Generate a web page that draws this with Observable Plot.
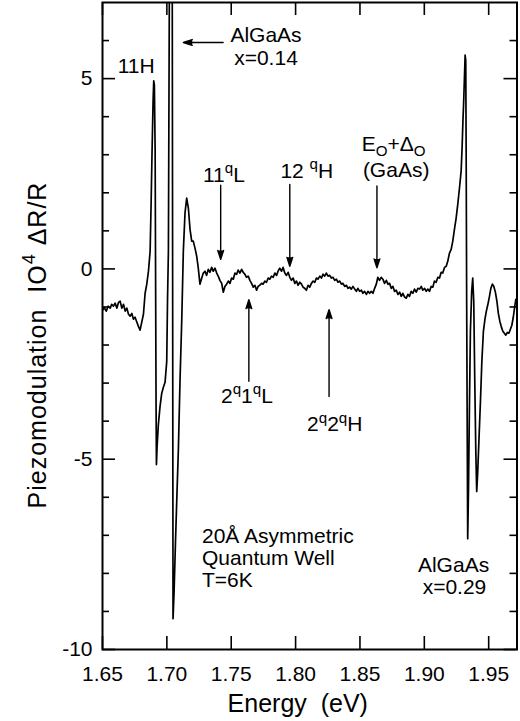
<!DOCTYPE html>
<html>
<head>
<meta charset="utf-8">
<script src="https://cdn.jsdelivr.net/npm/d3@7"></script>
<script src="https://cdn.jsdelivr.net/npm/@observablehq/plot@0.6"></script>
<style>
  html, body { margin: 0; padding: 0; background: #fff; }
  #chart { width: 520px; height: 721px; }
</style>
</head>
<body>
<div id="chart"></div>
<script>
// Piezomodulation spectrum of a 20 Å asymmetric quantum well at T = 6 K
const energy = [
  1.6500, 1.6513, 1.6529, 1.6544, 1.6560, 1.6571, 1.6585, 1.6598, 1.6612, 1.6624,
  1.6637, 1.6650, 1.6663, 1.6676, 1.6689, 1.6702, 1.6715, 1.6728, 1.6740, 1.6753,
  1.6767, 1.6779, 1.6792, 1.6805, 1.6818, 1.6831, 1.6844, 1.6857, 1.6870, 1.6878,
  1.6885, 1.6893, 1.6898, 1.6903, 1.6909, 1.6912, 1.6916, 1.6919, 1.6924, 1.6934,
  1.6947, 1.6960, 1.6973, 1.6986, 1.6999, 1.7005, 1.7012, 1.7019, 1.7030, 1.7042,
  1.7045, 1.7048, 1.7056, 1.7067, 1.7079, 1.7089, 1.7102, 1.7116, 1.7128, 1.7141,
  1.7154, 1.7167, 1.7180, 1.7193, 1.7205, 1.7219, 1.7232, 1.7244, 1.7257, 1.7271,
  1.7283, 1.7296, 1.7309, 1.7322, 1.7335, 1.7348, 1.7360, 1.7374, 1.7387, 1.7399,
  1.7412, 1.7426, 1.7438, 1.7443, 1.7451, 1.7464, 1.7477, 1.7490, 1.7503, 1.7516,
  1.7529, 1.7542, 1.7554, 1.7567, 1.7581, 1.7593, 1.7606, 1.7619, 1.7632, 1.7645,
  1.7658, 1.7671, 1.7684, 1.7697, 1.7709, 1.7722, 1.7736, 1.7748, 1.7761, 1.7774,
  1.7787, 1.7800, 1.7813, 1.7826, 1.7839, 1.7852, 1.7864, 1.7877, 1.7891, 1.7903,
  1.7916, 1.7929, 1.7942, 1.7955, 1.7968, 1.7981, 1.7994, 1.8007, 1.8019, 1.8033,
  1.8046, 1.8058, 1.8071, 1.8084, 1.8097, 1.8110, 1.8123, 1.8136, 1.8149, 1.8162,
  1.8174, 1.8188, 1.8201, 1.8213, 1.8226, 1.8239, 1.8252, 1.8265, 1.8278, 1.8291,
  1.8304, 1.8317, 1.8329, 1.8343, 1.8356, 1.8368, 1.8381, 1.8395, 1.8407, 1.8420,
  1.8433, 1.8446, 1.8459, 1.8472, 1.8484, 1.8498, 1.8511, 1.8523, 1.8536, 1.8550,
  1.8562, 1.8575, 1.8588, 1.8601, 1.8614, 1.8627, 1.8639, 1.8652, 1.8665, 1.8678,
  1.8691, 1.8705, 1.8717, 1.8730, 1.8743, 1.8756, 1.8769, 1.8782, 1.8795, 1.8808,
  1.8821, 1.8833, 1.8847, 1.8860, 1.8872, 1.8885, 1.8898, 1.8911, 1.8924, 1.8937,
  1.8950, 1.8963, 1.8976, 1.8988, 1.9002, 1.9015, 1.9027, 1.9040, 1.9053, 1.9066,
  1.9079, 1.9092, 1.9105, 1.9118, 1.9131, 1.9143, 1.9157, 1.9170, 1.9182, 1.9195,
  1.9209, 1.9221, 1.9234, 1.9247, 1.9260, 1.9273, 1.9286, 1.9294, 1.9300, 1.9306,
  1.9312, 1.9317, 1.9322, 1.9325, 1.9329, 1.9333, 1.9337, 1.9343, 1.9351, 1.9358,
  1.9368, 1.9376, 1.9384, 1.9392, 1.9400, 1.9407, 1.9415, 1.9424, 1.9436, 1.9447,
  1.9459, 1.9471, 1.9482, 1.9494, 1.9505, 1.9517, 1.9529, 1.9540, 1.9552, 1.9564,
  1.9575, 1.9587, 1.9599, 1.9610, 1.9622, 1.9633, 1.9645, 1.9657, 1.9668, 1.9680,
  1.9691, 1.9703, 1.9711
];
const signal = [
  -1.09, -1.01, -1.11, -0.98, -1.03, -0.93, -0.98, -0.90, -1.03, -0.88,
  -0.85, -1.03, -0.93, -1.11, -1.03, -1.19, -1.24, -1.17, -1.32, -1.27,
  -1.40, -1.51, -1.61, -1.40, -1.19, -0.64, -0.40, -0.06, 0.47, 1.78,
  3.10, 4.41, 4.94, 4.83, 3.10, 0.20, -3.48, -5.14, -4.67, -4.09,
  -3.61, -3.27, -3.11, -2.98, -2.43, -0.85, 0.47, 6.99, 13.0, 6.99,
  -0.85, -9.19, -8.49, -7.17, -5.85, -4.80, -2.96, -1.30, 0.47, 1.47,
  1.86, 1.60, 1.04, 0.73, 0.73, 0.54, 0.33, 0.02, -0.40, -0.24,
  -0.11, -0.06, -0.17, -0.01, -0.09, 0.04, -0.06, 0.02, -0.11, -0.19,
  -0.30, -0.38, -0.61, -0.56, -0.46, -0.40, -0.32, -0.38, -0.24, -0.27,
  -0.11, -0.14, -0.03, -0.11, -0.01, -0.09, -0.14, -0.22, -0.19, -0.30,
  -0.38, -0.48, -0.43, -0.56, -0.46, -0.43, -0.38, -0.40, -0.32, -0.35,
  -0.24, -0.27, -0.19, -0.22, -0.11, -0.17, -0.06, 0.02, -0.06, 0.04,
  -0.11, -0.17, -0.09, -0.22, -0.30, -0.24, -0.38, -0.32, -0.43, -0.35,
  -0.40, -0.48, -0.51, -0.56, -0.43, -0.48, -0.38, -0.32, -0.35, -0.24,
  -0.27, -0.19, -0.24, -0.14, -0.19, -0.11, -0.19, -0.17, -0.24, -0.22,
  -0.30, -0.27, -0.35, -0.32, -0.40, -0.38, -0.46, -0.43, -0.51, -0.48,
  -0.53, -0.46, -0.53, -0.59, -0.51, -0.59, -0.56, -0.64, -0.59, -0.67,
  -0.59, -0.64, -0.59, -0.64, -0.51, -0.40, -0.22, -0.30, -0.22, -0.27,
  -0.38, -0.30, -0.40, -0.38, -0.51, -0.46, -0.59, -0.56, -0.67, -0.61,
  -0.72, -0.64, -0.74, -0.77, -0.67, -0.72, -0.59, -0.64, -0.53, -0.61,
  -0.51, -0.53, -0.46, -0.56, -0.51, -0.59, -0.53, -0.59, -0.46, -0.48,
  -0.32, -0.35, -0.22, -0.24, -0.09, -0.11, 0.04, 0.07, 0.20, 0.41,
  0.52, 0.73, 1.04, 1.33, 1.70, 2.12, 2.57, 3.23, 3.89, 4.41,
  5.07, 5.62, 5.47, 3.10, -0.85, -4.01, -7.09, -5.85, -3.48, -1.64,
  -0.59, -0.24, -0.85, -2.96, -4.80, -5.85, -5.32, -4.53, -3.48, -2.43,
  -1.64, -1.32, -1.11, -0.93, -0.74, -0.51, -0.40, -0.46, -0.61, -0.85,
  -1.17, -1.38, -1.53, -1.64, -1.69, -1.74, -1.67, -1.69, -1.59, -1.48,
  -1.27, -0.98, -0.80
];

// Axis ticks and their labels
const xTicks = [1.65, 1.70, 1.75, 1.80, 1.85, 1.90, 1.95];
const xTickLabels = ["1.65", "1.70", "1.75", "1.80", "1.85", "1.90", "1.95"];
const yTicks = [-10, -5, 0, 5];
const yTickLabels = ["-10", "-5", "0", "5"];
const yMinorTicks = [-9, -8, -7, -6, -4, -3, -2, -1, 1, 2, 3, 4, 6];

// Feature labels ("^" raises and "_" lowers the next character)
const labelText = [
  "11H", "AlGaAs", "x=0.14", "11^qL", "12 ^qH", "E_O+Δ_O", "(GaAs)",
  "2^q1^qL", "2^q2^qH", "AlGaAs", "x=0.29"
];
const labelEnergy = [1.6762, 1.7770, 1.7770, 1.7443, 1.8087, 1.8761, 1.8781, 1.7622, 1.8304, 1.9227, 1.9234];
const labelSignal = [5.15, 5.96, 5.36, 2.28, 2.39, 3.10, 2.41, -3.53, -4.27, -7.96, -8.53];

// Sample description block
const noteText = ["20Å Asymmetric", "Quantum Well", "T=6K"];
const noteEnergy = [1.7273, 1.7273, 1.7273];
const noteSignal = [-7.19, -7.77, -8.35];

// Arrows pointing at the features
const arrowE1 = [1.7437, 1.7418, 1.7955, 1.8632, 1.7637, 1.8260];
const arrowS1 = [5.95, 2.20, 2.22, 2.18, -2.95, -3.35];
const arrowE2 = [1.7128, 1.7418, 1.7955, 1.8632, 1.7637, 1.8260];
const arrowS2 = [5.95, 0.25, 0.07, 0.03, -0.81, -1.07];

const spectrum = energy.map((e, i) => ({e, s: signal[i]}));
const labels = labelText.map((t, i) => ({t, e: labelEnergy[i], s: labelSignal[i]}));
const notes = noteText.map((t, i) => ({t, e: noteEnergy[i], s: noteSignal[i]}));
const arrows = arrowE1.map((e1, i) => ({e1, s1: arrowS1[i], e2: arrowE2[i], s2: arrowS2[i]}));

const W = 520, H = 721;
const mL = 102, mR = 3.5, mT = 2, mB = 72;
const innerW = W - mL - mR, innerH = H - mT - mB;
const font = "'Liberation Sans', Arial, Helvetica, sans-serif";
const fs = 21;

const plot = Plot.plot({
  width: W,
  height: H,
  marginLeft: mL,
  marginRight: mR,
  marginTop: mT,
  marginBottom: mB,
  style: {fontFamily: font, fontSize: fs + "px", color: "black", background: "white"},
  x: {domain: [1.65, 1.972], axis: null},
  y: {domain: [-10, 7], axis: null},
  marks: [
    // inward ticks on all four sides
    Plot.ruleX(xTicks, {x: d => d, insetTop: innerH - 13, strokeWidth: 1.6}),
    Plot.ruleX(xTicks, {x: d => d, insetBottom: innerH - 13, strokeWidth: 1.6}),
    Plot.ruleY(yTicks, {y: d => d, insetRight: innerW - 13, strokeWidth: 1.6}),
    Plot.ruleY(yMinorTicks, {y: d => d, insetRight: innerW - 7, strokeWidth: 1.6}),
    Plot.ruleY(yTicks, {y: d => d, insetLeft: innerW - 13, strokeWidth: 1.6}),
    Plot.ruleY(yMinorTicks, {y: d => d, insetLeft: innerW - 7, strokeWidth: 1.6}),
    Plot.frame({strokeWidth: 2}),
    // tick labels
    Plot.text(xTicks, {x: d => d, text: (d, i) => xTickLabels[i], frameAnchor: "bottom", lineAnchor: "bottom", dy: 31, fontSize: fs}),
    Plot.text(yTicks, {y: d => d, text: (d, i) => yTickLabels[i], frameAnchor: "left", textAnchor: "end", lineAnchor: "middle", dx: -10, fontSize: fs}),
    // axis titles
    Plot.text(["Energy  (eV)"], {frameAnchor: "bottom", textAnchor: "middle", lineAnchor: "bottom", dx: -12, dy: 62, fontSize: 25}),
    Plot.text(["Piezomodulation  IO^4 ΔR/R"], {frameAnchor: "left", textAnchor: "middle", lineAnchor: "middle", dx: -65, dy: 19, rotate: -90, fontSize: 25, className: "ytitle"}),
    // spectrum
    Plot.line(spectrum, {x: "e", y: "s", strokeWidth: 1.7, strokeLinejoin: "round", clip: true}),
    // annotations
    Plot.arrow(arrows, {x1: "e1", y1: "s1", x2: "e2", y2: "s2", headLength: 10, headAngle: 36, strokeWidth: 1.4, stroke: "black", fill: "black"}),
    Plot.text(labels, {x: "e", y: "s", text: "t", textAnchor: "middle", lineAnchor: "bottom", fontSize: fs}),
    Plot.text(notes, {x: "e", y: "s", text: "t", textAnchor: "start", lineAnchor: "bottom", fontSize: fs})
  ]
});

// Turn "^x" / "_x" markers into raised / lowered tspans
function richText(svg) {
  const NS = "http://www.w3.org/2000/svg";
  svg.querySelectorAll("text").forEach(t => {
    const s = t.textContent;
    if (!/[\^_]/.test(s)) return;
    const g = t.closest("[font-size]");
    const size = g ? parseFloat(g.getAttribute("font-size")) : fs;
    const segs = [];
    for (let i = 0; i < s.length; ++i) {
      const c = s[i];
      if ((c === "^" || c === "_") && i + 1 < s.length) {
        segs.push({text: s[++i], kind: c});
      } else if (segs.length && segs[segs.length - 1].kind === "") {
        segs[segs.length - 1].text += c;
      } else {
        segs.push({text: c, kind: ""});
      }
    }
    t.textContent = "";
    let shift = 0;
    for (const seg of segs) {
      const span = document.createElementNS(NS, "tspan");
      const target = seg.kind === "^" ? -0.42 * size : seg.kind === "_" ? 0.22 * size : 0;
      if (target !== shift) span.setAttribute("dy", target - shift);
      if (seg.kind) span.setAttribute("font-size", 0.72 * size);
      shift = target;
      span.textContent = seg.text;
      t.appendChild(span);
    }
  });
}
richText(plot);
// slightly looser tracking on the vertical title
plot.querySelectorAll(".ytitle text, g.ytitle text").forEach(t => t.setAttribute("letter-spacing", "1"));
document.getElementById("chart").appendChild(plot);
</script>
</body>
</html>
